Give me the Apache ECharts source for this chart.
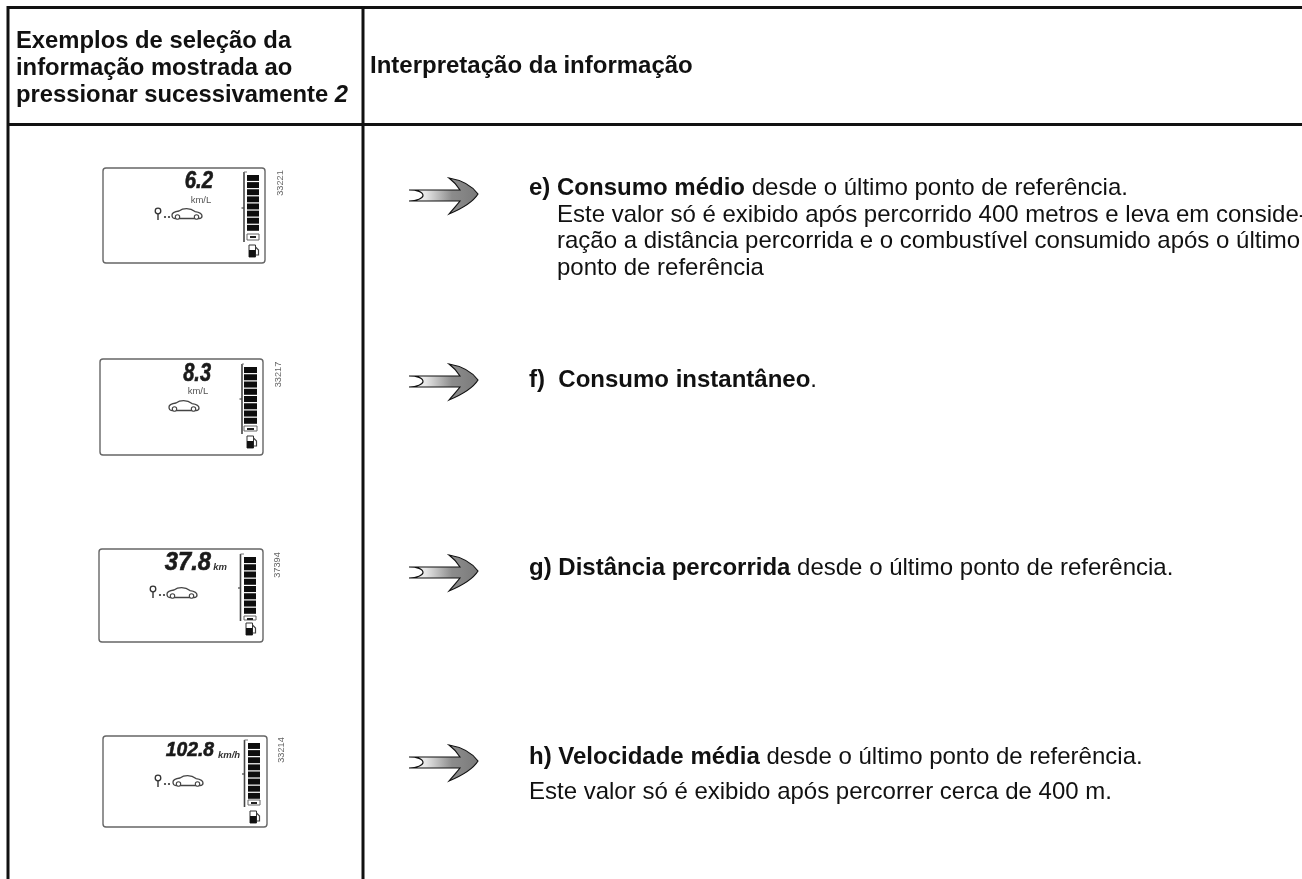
<!DOCTYPE html>
<html><head><meta charset="utf-8">
<style>html,body{margin:0;padding:0;background:#fff}#c{width:1302px;height:879px}</style>
<script src="https://cdn.jsdelivr.net/npm/echarts@6/dist/echarts.min.js"></script>
</head><body><div id="c"></div>
<script>
// ---- content ----
const headerLeft = ['Exemplos de seleção da', 'informação mostrada ao', 'pressionar sucessivamente '];
const headerLeftKey = '2';
const headerRight = 'Interpretação da informação';
const readings = ['6.2', '8.3', '37.8', '102.8'];
const units = ['km/L', 'km/L', 'km', 'km/h'];
const photoIds = ['33221', '33217', '37394', '33214'];
const hasPin = [true, false, true, true];
const gaugeSegments = 8;
const rowE = ['{b|e) Consumo médio} desde o último ponto de referência.'];
const rowEBody = ['Este valor só é exibido após percorrido 400 metros e leva em conside-',
  'ração a distância percorrida e o combustível consumido após o último',
  'ponto de referência'];
const rowF = '{b|f)  Consumo instantâneo}.';
const rowG = '{b|g) Distância percorrida} desde o último ponto de referência.';
const rowH = '{b|h) Velocidade média} desde o último ponto de referência.';
const rowHBody = 'Este valor só é exibido após percorrer cerca de 400 m.';

// ---- layout ----
const FONT = '"Liberation Sans", Arial, sans-serif';
const BODY = 24;
const panels = [
 {l:103,r:265,t:168,b:263, dx:213,dy:181,ds:24,sx:0.85,ux:201,uy:200,us:9.5, carX:172,carY:208, pinX:158,pinY:208, gx:244,gt:172,gb:242,bl:247,br:259,bt:175,bb:232,st:234,sb:240,tick:208,fx:248,fy:245, idY:183,idX:280},
 {l:100,r:263,t:359,b:455, dx:211,dy:374,ds:25,sx:0.8,ux:198,uy:391,us:9.5, carX:169,carY:400, pinX:0,pinY:0, gx:242,gt:364,gb:434,bl:244,br:257,bt:367,bb:425,st:426,sb:431,tick:399,fx:246,fy:436, idY:374.5,idX:278},
 {l:99,r:263,t:549,b:642, dx:211,dy:563,ds:25,sx:0.95,ux:220,uy:567,us:9.5, carX:167,carY:587, pinX:153,pinY:586, gx:240.5,gt:554,gb:621,bl:244,br:256,bt:557,bb:615,st:616,sb:620,tick:588,fx:245,fy:623, idY:565,idX:277},
 {l:103,r:267,t:736,b:827, dx:214,dy:750,ds:21,sx:0.92,ux:229,uy:755,us:9.5, carX:173,carY:775, pinX:158,pinY:775, gx:244.5,gt:740,gb:807,bl:248,br:260,bt:743,bb:800,st:800,sb:805,tick:774,fx:249,fy:811, idY:750,idX:281}
];
const arrowsY = [194, 380, 571, 761];

// reusable outlines, registered with the library's graphic module
const reg = (name,d) => echarts.graphic.registerShape(name, echarts.graphic.extendPath(d, {}));
reg('arrowShape','M0 -4L51 -4C48 -9 44 -13 40 -16C52 -14 63 -8 69 0C64 8 52 15 40 20C44 15 48 11 51 7L0 7C8 7 14 4 14 1.5C14 -2 8 -4 0 -4Z');
reg('carShape','M0 7C0 4.5 3 3.6 7 3C11 0 18 -0.5 23 3.6C27 4.2 30 5.5 30 8C30 9.5 29 10.5 27 10.5L3 10.5C1 10.5 0 9.5 0 7Z');
reg('hoseShape','M7.5 2L10.5 5L10.5 10L8 10');

const g = [];
const line = (x1,y1,x2,y2,w,c) => g.push({type:'line',silent:true,shape:{x1,y1,x2,y2},style:{stroke:c||'#111',lineWidth:w}});

// table rules
line(7,7.5,1302,7.5,3);
line(8,6,8,879,3);
line(363,6,363,879,3);
line(7,124.5,1302,124.5,3);

// header
const hb = 'bold 23.8px '+FONT;
g.push({type:'text',silent:true,x:16,y:41,style:{text:headerLeft[0],font:hb,fill:'#111',verticalAlign:'middle'}});
g.push({type:'text',silent:true,x:16,y:68,style:{text:headerLeft[1],font:hb,fill:'#111',verticalAlign:'middle'}});
g.push({type:'text',silent:true,x:16,y:95,style:{text:headerLeft[2]+'{i|'+headerLeftKey+'}',font:hb,fill:'#111',verticalAlign:'middle',rich:{i:{font:'italic bold 23.8px '+FONT,fill:'#111'}}}});
g.push({type:'text',silent:true,x:370,y:66,style:{text:headerRight,font:'bold 24px '+FONT,fill:'#111',verticalAlign:'middle'}});

// right column text
const rich = {b:{font:'bold '+BODY+'px '+FONT,fill:'#111'}};
const row = (x,y,s)=>g.push({type:'text',silent:true,x,y,style:{text:s,font:BODY+'px '+FONT,fill:'#111',verticalAlign:'middle',rich}});
row(529,188,rowE[0]);
rowEBody.forEach((s,i)=>row(557,215+i*26.7,s));
row(529,380,rowF);
row(529,568,rowG);
row(529,757,rowH);
row(529,792,rowHBody);

// arrows
arrowsY.forEach(y=>{
  g.push({type:'arrowShape',silent:true,x:409,y:y,style:{stroke:'#111',lineWidth:1.2,
    fill:{type:'linear',x:0,y:0,x2:1,y2:0,colorStops:[{offset:0,color:'#ffffff'},{offset:0.25,color:'#e6e6e6'},{offset:0.62,color:'#8c8c8c'},{offset:1,color:'#7a7a7a'}]}}});
});

// instrument panels
panels.forEach((p,i)=>{
  g.push({type:'rect',silent:true,shape:{x:p.l,y:p.t,width:p.r-p.l,height:p.b-p.t,r:3},style:{fill:'#fff',stroke:'#666',lineWidth:1.4}});
  // reading
  g.push({type:'text',silent:true,x:p.dx,y:p.dy,scaleX:p.sx,style:{text:readings[i],font:'italic bold '+p.ds+'px '+FONT,fill:'#1a1a1a',stroke:'#1a1a1a',lineWidth:0.6,align:'right',verticalAlign:'middle'}});
  // unit
  const boldUnit = units[i]!=='km/L';
  g.push({type:'text',silent:true,x:p.ux,y:p.uy,style:{text:units[i],font:(boldUnit?'italic bold ':'')+p.us+'px '+FONT,fill:boldUnit?'#333':'#555',align:'center',verticalAlign:'middle'}});
  // car
  g.push({type:'carShape',silent:true,x:p.carX,y:p.carY,style:{fill:'#fff',stroke:'#444',lineWidth:1.3}});
  [5.5,24.5].forEach(o=>g.push({type:'circle',silent:true,shape:{cx:p.carX+o,cy:p.carY+9,r:2.2},style:{fill:'#fff',stroke:'#444',lineWidth:1.1}}));
  // pin
  if(hasPin[i]){
    g.push({type:'circle',silent:true,shape:{cx:p.pinX,cy:p.pinY+3,r:2.8},style:{fill:'#fff',stroke:'#333',lineWidth:1.3}});
    line(p.pinX,p.pinY+6,p.pinX,p.pinY+12,1.4,'#333');
    [7,11].forEach(o=>g.push({type:'circle',silent:true,shape:{cx:p.pinX+o,cy:p.pinY+9,r:1.1},style:{fill:'#333'}}));
  }
  // gauge
  line(p.gx,p.gt,p.gx,p.gb,1.6,'#444');
  line(p.gx-2.5,p.tick,p.gx,p.tick,1.2,'#444');
  line(p.gx,p.gt,p.bl,p.gt,1,'#777');
  const h=(p.bb-p.bt)/gaugeSegments;
  for(let k=0;k<gaugeSegments;k++){
    g.push({type:'rect',silent:true,shape:{x:p.bl,y:p.bt+k*h,width:p.br-p.bl,height:h-1.2},style:{fill:'#0d0d0d'}});
  }
  g.push({type:'rect',silent:true,shape:{x:p.bl,y:p.st,width:p.br-p.bl,height:p.sb-p.st},style:{fill:'#fff',stroke:'#666',lineWidth:1}});
  g.push({type:'rect',silent:true,shape:{x:p.bl+3,y:p.st+2,width:p.br-p.bl-6,height:2},style:{fill:'#222'}});
  // fuel pump
  g.push({type:'rect',silent:true,shape:{x:p.fx+1,y:p.fy,width:6.5,height:12},style:{fill:'#fff',stroke:'#333',lineWidth:1}});
  g.push({type:'rect',silent:true,shape:{x:p.fx+1,y:p.fy+5,width:6.5,height:7},style:{fill:'#111'}});
  g.push({type:'hoseShape',silent:true,x:p.fx,y:p.fy,style:{fill:'none',stroke:'#444',lineWidth:1.2}});
  // photo reference
  g.push({type:'text',silent:true,x:p.idX,y:p.idY,rotation:Math.PI/2,style:{text:photoIds[i],font:'9.2px '+FONT,fill:'#666',align:'center',verticalAlign:'middle'}});
});

const chart = echarts.init(document.getElementById('c'),null,{renderer:'canvas'});
chart.setOption({animation:false,backgroundColor:'#fff',graphic:{elements:g}});
</script></body></html>
